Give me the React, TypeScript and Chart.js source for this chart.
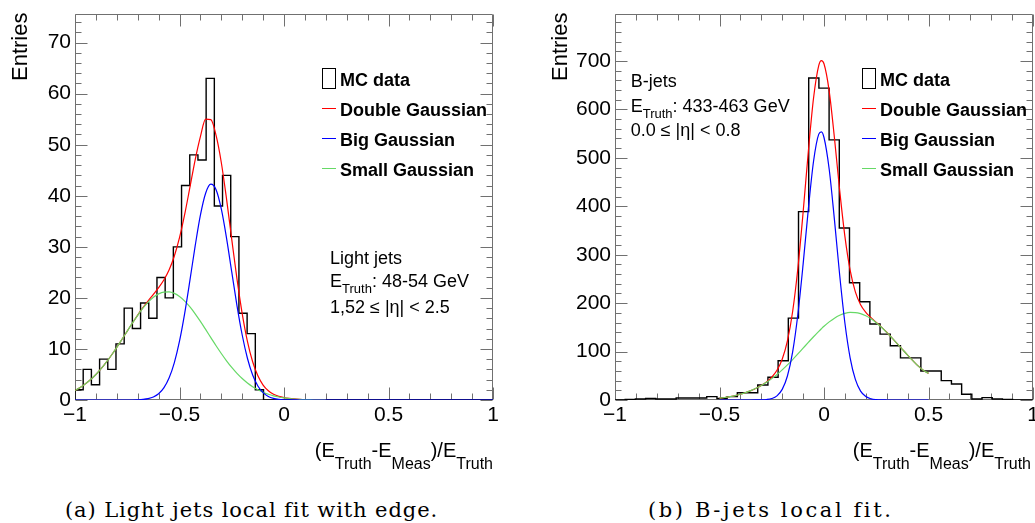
import React, { useEffect, useRef } from "react";
import { Chart, registerables } from "chart.js";

Chart.register(...registerables);

// ---------------- data ----------------
const xTickValues = [-1, -0.5, 0, 0.5, 1];
const xTickLabels = ["\u22121", "\u22120.5", "0", "0.5", "1"];

const leftYTicks = [0, 10, 20, 30, 40, 50, 60, 70];
const rightYTicks = [0, 100, 200, 300, 400, 500, 600, 700];
const leftYMax = 75.6;
const rightYMax = 797;

// Light jets histogram: 51 bins on [-1, 1]
const leftHistRange = [-1, 1];
const leftCounts = [
  2, 6, 3, 8, 6, 11, 18, 14, 19, 16, 24, 20, 30, 42, 48, 47, 63, 38, 44, 32, 17, 13, 2,
  0, 0, 0, 0, 0, 0, 0, 0, 0, 0, 0, 0, 0, 0, 0, 0, 0, 0, 0, 0, 0, 0, 0, 0, 0, 0, 0, 0,
];

// B-jets histogram: 41 bins on [-1, 1]
const rightHistRange = [-1, 1];
const rightCounts = [
  0, 1, 2, 3, 2, 2, 4, 4, 4, 7, 3, 7, 15, 15, 31, 47, 81, 169, 389, 665, 644, 537, 355,
  242, 203, 157, 136, 112, 87, 87, 60, 60, 40, 33, 12, 2, 5, 2, 1, 0, 0,
];

// Light jets fitted curves
const leftFitX = [
  -1, -0.975, -0.95, -0.925, -0.9, -0.875, -0.85, -0.825, -0.8, -0.775, -0.75, -0.725,
  -0.7, -0.675, -0.65, -0.625, -0.6, -0.575, -0.55, -0.525, -0.5, -0.475, -0.45, -0.425,
  -0.4, -0.375, -0.35, -0.325, -0.3, -0.275, -0.25, -0.225, -0.2, -0.175, -0.15, -0.125,
  -0.1, -0.075, -0.05, -0.025, 0, 0.025, 0.05, 0.075, 0.1, 0.125, 0.15, 0.175, 0.2, 0.6, 1,
];
const leftDouble = [
  1.88, 2.46, 3.17, 4.01, 5.0, 6.13, 7.41, 8.81, 10.32, 11.9, 13.5, 15.09,
  16.63, 18.08, 19.42, 20.69, 21.99, 23.5, 25.46, 28.16, 31.79, 36.4, 41.69, 47.05,
  51.58, 55.0, 54.9, 51.81, 46.52, 39.4, 31.46, 23.71, 16.93, 11.5, 7.49, 4.73,
  2.93, 1.81, 1.14, 0.72, 0.47, 0.31, 0.21, 0.14, 0.09, 0.06, 0.04, 0.02, 0.01, null, null,
];
const leftBig = [
  0, 0, 0, 0, 0, 0, 0, 0, 0, 0, 0, 0,
  0.04, 0.11, 0.26, 0.58, 1.21, 2.36, 4.29, 7.28, 11.52, 17.03, 23.47, 30.17,
  36.19, 40.5, 42.28, 41.18, 37.41, 31.72, 25.08, 18.5, 12.73, 8.18, 4.9, 2.74,
  1.43, 0.69, 0.32, 0.13, 0.05, 0.02, 0.01, 0, 0, 0, 0, 0, 0, 0, 0,
];
const leftSmall = [
  1.88, 2.46, 3.17, 4.01, 5.0, 6.13, 7.41, 8.81, 10.32, 11.9, 13.5, 15.09,
  16.59, 17.97, 19.16, 20.11, 20.78, 21.14, 21.17, 20.88, 20.27, 19.37, 18.22, 16.88,
  15.39, 13.82, 12.22, 10.63, 9.11, 7.68, 6.38, 5.21, 4.2, 3.32, 2.59, 1.99,
  1.5, 1.12, 0.82, 0.59, 0.42, 0.29, 0.2, 0.14, 0.09, 0.06, 0.04, 0.02, 0.01, null, null,
];

// B-jets fitted curves
const rightFitX = [
  -0.5, -0.475, -0.45, -0.425, -0.4, -0.375, -0.35, -0.325, -0.3, -0.275, -0.25, -0.225,
  -0.2, -0.175, -0.15, -0.125, -0.1, -0.075, -0.05, -0.025, -0.0125, 0, 0.025, 0.05,
  0.075, 0.1, 0.125, 0.15, 0.175, 0.2, 0.225, 0.25, 0.275, 0.3, 0.325, 0.35, 0.375,
  0.4, 0.425, 0.45, 0.475, 0.5,
];
const rightDouble = [
  3.9, 5.2, 7.0, 9.1, 11.9, 15.2, 19.3, 24.2, 30.2, 37.4, 47.1, 61.3,
  84.2, 122.0, 182.8, 272.1, 387.0, 512.9, 623.6, 690.8, 700.8, 694.2, 637.3, 541.0,
  432.9, 337.9, 268.0, 223.1, 196.7, 181.0, 170.0, 160.3, 150.4, 139.8, 128.3, 116.5, 104.6,
  92.7, 81.3, 70.4, 61.5, 55.0,
];
const rightBig = [
  0, 0, 0, 0, 0, 0, 0.01, 0.06, 0.26, 0.94, 3.0, 8.6,
  22.0, 49.5, 99.3, 177, 280, 394, 493, 549, 553.7, 542, 476, 372,
  258, 159, 87.2, 42.5, 18.4, 7.1, 2.4, 0.74, 0.2, 0.05, 0.01, 0, 0,
  0, 0, 0, 0, 0,
];
const rightSmall = [
  3.9, 5.2, 7.0, 9.1, 11.9, 15.2, 19.3, 24.1, 29.9, 36.5, 44.1, 52.7,
  62.2, 72.5, 83.5, 95.1, 107.0, 118.9, 130.6, 141.8, 147.1, 152.2, 161.3, 169.0,
  174.9, 178.9, 180.8, 180.6, 178.3, 173.9, 167.6, 159.6, 150.2, 139.7, 128.3, 116.5, 104.6,
  92.7, 81.3, 70.4, 61.5, 55.0,
];

const legendLabels = ["MC data", "Double Gaussian", "Big Gaussian", "Small Gaussian"];

// ---------------- styles ----------------
const COLORS = {
  hist: "#000000",
  red: "#ff0000",
  blue: "#0000ff",
  green: "#66d966",
  frame: "#707070",
};
const SANS = "'Liberation Sans', Arial, Helvetica, sans-serif";
const SERIF = "'DejaVu Serif', serif";

function histPoints(range: number[], counts: number[]) {
  const [min, max] = range;
  const w = (max - min) / counts.length;
  const pts: { x: number; y: number }[] = [{ x: min, y: 0 }];
  counts.forEach((c, i) => pts.push({ x: min + i * w, y: c }));
  pts.push({ x: max, y: counts[counts.length - 1] });
  pts.push({ x: max, y: 0 });
  return pts;
}

function curvePoints(xs: number[], ys: (number | null)[]) {
  return xs.map((x, i) => ({ x, y: ys[i] as number }));
}

const rootTicks = {
  id: "rootTicks",
  beforeDatasetsDraw(chart: any) {
    const o = chart.options.plugins.rootTicks;
    const { ctx, chartArea: a, scales } = chart;
    const x = scales.x;
    const y = scales.y;
    const L = Math.round(a.left) + 0.5;
    const R = Math.round(a.right) - 0.5;
    const T = Math.round(a.top) + 0.5;
    const B = Math.round(a.bottom) - 0.5;
    ctx.save();
    ctx.strokeStyle = COLORS.frame;
    ctx.lineWidth = 1;
    ctx.beginPath();
    ctx.rect(L, T, R - L, B - T);
    const isMaj = (v: number, m: number) => Math.abs(v / m - Math.round(v / m)) < 1e-6;
    for (let i = 0; ; i++) {
      const v = x.min + i * o.xMinor;
      if (v > x.max + 1e-9) break;
      const px = Math.round(x.getPixelForValue(v)) + 0.5;
      const len = isMaj(v, o.xMajor) ? 12 : 6;
      ctx.moveTo(px, B);
      ctx.lineTo(px, B - len);
      ctx.moveTo(px, T);
      ctx.lineTo(px, T + len);
    }
    for (let i = 0; ; i++) {
      const v = i * o.yMinor;
      if (v > y.max + 1e-9) break;
      const py = Math.round(y.getPixelForValue(v)) + 0.5;
      const len = isMaj(v, o.yMajor) ? 12 : 6;
      ctx.moveTo(L, py);
      ctx.lineTo(L + len, py);
      ctx.moveTo(R, py);
      ctx.lineTo(R - len, py);
    }
    ctx.stroke();
    ctx.restore();
  },
};

type Spec = {
  left: number;
  width: number;
  yWidth: number;
  padRight: number;
  yMax: number;
  yTicks: number[];
  yMajor: number;
  yMinor: number;
  histRange: number[];
  counts: number[];
  fitX: number[];
  dbl: (number | null)[];
  big: (number | null)[];
  small: (number | null)[];
};

const CANVAS_H = 440;

function Panel({ spec }: { spec: Spec }) {
  const ref = useRef<HTMLCanvasElement>(null);
  useEffect(() => {
    const line = (label: string, data: any, color: string, w: number, extra: any = {}) => ({
      label,
      data,
      borderColor: color,
      backgroundColor: color,
      borderWidth: w,
      pointRadius: 0,
      fill: false,
      spanGaps: false,
      ...extra,
    });
    const chart = new Chart(ref.current as HTMLCanvasElement, {
      type: "line",
      data: {
        datasets: [
          line(legendLabels[2], curvePoints(spec.fitX, spec.big), COLORS.blue, 1.2, { cubicInterpolationMode: "monotone" }),
          line(legendLabels[3], curvePoints(spec.fitX, spec.small), COLORS.green, 1.2, { cubicInterpolationMode: "monotone" }),
          line(legendLabels[1], curvePoints(spec.fitX, spec.dbl), COLORS.red, 1.2, { cubicInterpolationMode: "monotone" }),
          line(legendLabels[0], histPoints(spec.histRange, spec.counts), COLORS.hist, 1.4, { stepped: "before" }),
        ] as any,
      },
      options: {
        animation: false,
        responsive: false,
        maintainAspectRatio: false,
        events: [],
        layout: { autoPadding: false, padding: { left: 0, top: 14, right: spec.padRight, bottom: 0 } } as any,
        plugins: {
          legend: { display: false },
          tooltip: { enabled: false },
          rootTicks: { xMajor: 0.5, xMinor: 0.1, yMajor: spec.yMajor, yMinor: spec.yMinor },
        } as any,
        scales: {
          x: {
            type: "linear",
            min: -1,
            max: 1,
            grid: { display: false, drawTicks: false },
            border: { display: false },
            afterBuildTicks: (s: any) => {
              s.ticks = xTickValues.map((v) => ({ value: v }));
            },
            afterFit: (s: any) => {
              s.height = CANVAS_H - 400;
              s.paddingLeft = 0;
              s.paddingRight = 0;
            },
            ticks: {
              autoSkip: false,
              maxRotation: 0,
              padding: 3,
              color: "#000",
              font: { family: SANS, size: 21 },
              callback: (_v: any, i: number) => xTickLabels[i],
            },
          },
          y: {
            type: "linear",
            min: 0,
            max: spec.yMax,
            grid: { display: false, drawTicks: false },
            border: { display: false },
            afterBuildTicks: (s: any) => {
              s.ticks = spec.yTicks.map((v) => ({ value: v }));
            },
            afterFit: (s: any) => {
              s.width = spec.yWidth;
              s.paddingTop = 0;
              s.paddingBottom = 0;
            },
            ticks: {
              autoSkip: false,
              padding: 4,
              color: "#000",
              font: { family: SANS, size: 21 },
              callback: (v: any) => String(v),
            },
          },
        } as any,
      },
      plugins: [rootTicks as any],
    });
    return () => chart.destroy();
  }, []);
  return (
    <canvas
      ref={ref}
      width={spec.width}
      height={CANVAS_H}
      style={{ position: "absolute", left: spec.left, top: 0, width: spec.width, height: CANVAS_H }}
    />
  );
}

// text placed by its baseline
function Txt({
  x,
  base,
  size,
  bold,
  right,
  family,
  spacing,
  children,
}: {
  x: number;
  base: number;
  size: number;
  bold?: boolean;
  right?: boolean;
  family?: string;
  spacing?: number;
  children: any;
}) {
  const pos: any = right ? { right: 1035 - x } : { left: x };
  return (
    <div
      style={{
        position: "absolute",
        top: base - 0.8465 * size,
        ...pos,
        fontFamily: family || SANS,
        fontSize: size,
        fontWeight: bold ? "bold" : "normal",
        lineHeight: 1,
        whiteSpace: "nowrap",
        color: "#000",
        letterSpacing: spacing || 0,
      }}
    >
      {children}
    </div>
  );
}

function Sub({ size, off, children }: { size: number; off: number; children: any }) {
  return <span style={{ fontSize: size, position: "relative", top: off }}>{children}</span>;
}

function Entries({ baseX }: { baseX: number }) {
  const size = 22;
  return (
    <div
      style={{
        position: "absolute",
        left: baseX - 0.8465 * size,
        top: 80.7,
        transformOrigin: "0 0",
        transform: "rotate(-90deg)",
        fontFamily: SANS,
        fontSize: size,
        lineHeight: 1,
        whiteSpace: "nowrap",
        color: "#000",
      }}
    >
      Entries
    </div>
  );
}

function Legend({ x }: { x: number }) {
  const tx = x + 18.3;
  const bases = [86, 116, 146.3, 176.5];
  const colors = [COLORS.red, COLORS.blue, COLORS.green];
  return (
    <>
      <div
        style={{
          position: "absolute",
          left: x,
          top: 68.3,
          width: 14.3,
          height: 21,
          border: "1.5px solid #000",
          boxSizing: "border-box",
        }}
      />
      {colors.map((c, i) => (
        <div
          key={c}
          style={{ position: "absolute", left: x, top: bases[i + 1] - 8.4, width: 14.3, height: 1.4, background: c }}
        />
      ))}
      {legendLabels.map((l, i) => (
        <Txt key={l} x={tx} base={bases[i]} size={18} bold>
          {l}
        </Txt>
      ))}
    </>
  );
}

function XTitle({ end }: { end: number }) {
  return (
    <Txt x={end} base={457.3} size={20} right>
      (E<Sub size={16} off={12}>Truth</Sub>-E<Sub size={16} off={12}>Meas</Sub>)/E
      <Sub size={16} off={12}>Truth</Sub>
    </Txt>
  );
}

const leftSpec: Spec = {
  left: 0,
  width: 517,
  yWidth: 75,
  padRight: 24,
  yMax: leftYMax,
  yTicks: leftYTicks,
  yMajor: 10,
  yMinor: 2,
  histRange: leftHistRange,
  counts: leftCounts,
  fitX: leftFitX,
  dbl: leftDouble,
  big: leftBig,
  small: leftSmall,
};

const rightSpec: Spec = {
  left: 517,
  width: 518,
  yWidth: 98,
  padRight: 2,
  yMax: rightYMax,
  yTicks: rightYTicks,
  yMajor: 100,
  yMinor: 20,
  histRange: rightHistRange,
  counts: rightCounts,
  fitX: rightFitX,
  dbl: rightDouble,
  big: rightBig,
  small: rightSmall,
};

export default function App() {
  return (
    <div
      style={{
        position: "absolute",
        left: 0,
        top: 0,
        width: 1035,
        height: 523,
        overflow: "hidden",
        background: "#fff",
      }}
    >
      <Panel spec={leftSpec} />
      <Panel spec={rightSpec} />

      <Entries baseX={27.3} />
      <Entries baseX={567.3} />

      <Legend x={321.7} />
      <Legend x={861.7} />

      <Txt x={330} base={264} size={18}>Light jets</Txt>
      <Txt x={330} base={287.3} size={18}>
        E<Sub size={13} off={6}>Truth</Sub>: 48-54 GeV
      </Txt>
      <Txt x={330} base={313.3} size={18}>1,52 ≤ |η| &lt; 2.5</Txt>

      <Txt x={630.7} base={87.3} size={18}>B-jets</Txt>
      <Txt x={630.7} base={112.3} size={18}>
        E<Sub size={13} off={6}>Truth</Sub>: 433-463 GeV
      </Txt>
      <Txt x={630.7} base={136.7} size={18}>0.0 ≤ |η| &lt; 0.8</Txt>

      <XTitle end={493} />
      <XTitle end={1031} />

      <Txt x={65} base={517.3} size={21} family={SERIF} spacing={0.9}>
        (a) Light jets local fit with edge.
      </Txt>
      <Txt x={648} base={517.3} size={21} family={SERIF} spacing={2.6}>
        (b) B-jets local fit.
      </Txt>
    </div>
  );
}
